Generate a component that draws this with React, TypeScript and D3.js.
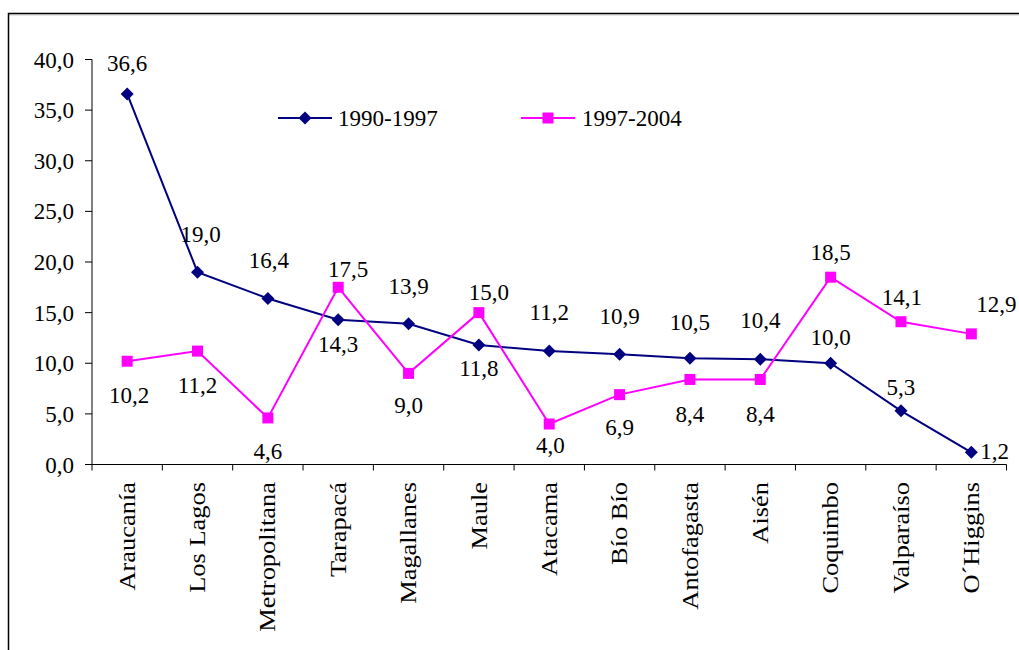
import React from "react";
import * as d3 from "d3";

const categories = ["Araucanía", "Los Lagos", "Metropolitana", "Tarapacá", "Magallanes", "Maule", "Atacama", "Bío Bío", "Antofagasta", "Aisén", "Coquimbo", "Valparaíso", "O´Higgins"];
const series1990 = [36.6, 19.0, 16.4, 14.3, 13.9, 11.8, 11.2, 10.9, 10.5, 10.4, 10.0, 5.3, 1.2];
const series1997 = [10.2, 11.2, 4.6, 17.5, 9.0, 15.0, 4.0, 6.9, 8.4, 8.4, 18.5, 14.1, 12.9];
const yTicks = [0, 5, 10, 15, 20, 25, 30, 35, 40];
const seriesNames = ["1990-1997", "1997-2004"];

// data label offsets relative to each point (layout only): [dx, dy to baseline]
const off1990: [number, number][] = [[0, -23], [3, -30], [1, -30], [0, 32], [0, -30], [0, 31], [0, -31], [0, -30], [0, -28], [0, -31], [0, -18], [0, -16], [28, 7]];
const off1997: [number, number][] = [[2, 42], [0, 42], [0, 41], [10, -10], [0, 40], [10, -13], [1, 29], [0, 40], [0, 43], [0, 43], [0, -17], [1, -17], [25, -22]];

const TS: React.CSSProperties = { fontFamily: "'Liberation Serif', 'Times New Roman', serif", fontSize: 23 };
const fmt = (v: number) => v.toFixed(1).replace(".", ",");

export default function App() {
  const x0 = 92, x1 = 1006.5, yTop = 59.5, yBot = 464.5;
  const x = d3.scaleBand().domain(categories).range([x0, x1]);
  const y = d3.scaleLinear().domain([0, 40]).range([yBot, yTop]);
  const cx = (c: string) => (x(c) as number) + x.bandwidth() / 2;
  const line = d3.line<number>().x((_, i) => cx(categories[i])).y((d) => y(d));

  const diamond = (px: number, py: number, s = 6.5) =>
    `M${px},${py - s}L${px + s},${py}L${px},${py + s}L${px - s},${py}Z`;

  return (
    <svg width={1019} height={650} style={{ position: "absolute", left: 0, top: 0, background: "#fff" }}>
      <rect x={0} y={0} width={1019} height={650} fill="#fff" />
      <line x1={9} y1={15} x2={1019} y2={15} stroke="#ccc" strokeWidth={1} />
      <path d={`M8.5,650V13.5H1019`} fill="none" stroke="#000" strokeWidth={1.5} />

      <line x1={x0} y1={yTop} x2={x0} y2={yBot} stroke="#000" strokeWidth={1} />
      {yTicks.map((t) => (
        <g key={t}>
          <line x1={x0 - 7} x2={x0} y1={y(t)} y2={y(t)} stroke="#000" />
          <text x={74} y={y(t) + 8} textAnchor="end" style={TS} fill="#000">{fmt(t)}</text>
        </g>
      ))}

      <line x1={x0} y1={yBot} x2={x1} y2={yBot} stroke="#000" strokeWidth={1} />
      {categories.map((c, i) => (
        <line key={"t" + i} x1={x(c) as number} x2={x(c) as number} y1={yBot} y2={yBot + 6} stroke="#000" />
      ))}
      <line x1={x1} x2={x1} y1={yBot} y2={yBot + 6} stroke="#000" />
      {categories.map((c) => (
        <text key={c} transform={`translate(${cx(c)},482) rotate(-90) scale(1.15,1)`} textAnchor="end" dy="0.33em" style={TS} fill="#000">{c}</text>
      ))}

      <path d={line(series1990) || ""} fill="none" stroke="#000080" strokeWidth={2} />
      <path d={line(series1997) || ""} fill="none" stroke="#FF00FF" strokeWidth={2} />
      {series1990.map((v, i) => (
        <path key={"d" + i} d={diamond(cx(categories[i]), y(v))} fill="#000080" />
      ))}
      {series1997.map((v, i) => (
        <rect key={"s" + i} x={cx(categories[i]) - 5.5} y={y(v) - 5.5} width={11} height={11} fill="#FF00FF" />
      ))}

      {series1990.map((v, i) => {
        const [dx, dy] = off1990[i];
        const right = i === series1990.length - 1;
        return <text key={"l1" + i} x={cx(categories[i]) + (right ? 9 : dx)} y={y(v) + dy} textAnchor={right ? "start" : "middle"} style={TS} fill="#000">{fmt(v)}</text>;
      })}
      {series1997.map((v, i) => {
        const [dx, dy] = off1997[i];
        return <text key={"l2" + i} x={cx(categories[i]) + dx} y={y(v) + dy} textAnchor="middle" style={TS} fill="#000">{fmt(v)}</text>;
      })}

      <line x1={278} x2={332} y1={118} y2={118} stroke="#000080" strokeWidth={2} />
      <path d={diamond(305, 118)} fill="#000080" />
      <text x={338} y={126} style={TS} fill="#000">{seriesNames[0]}</text>
      <line x1={521} x2={575} y1={118} y2={118} stroke="#FF00FF" strokeWidth={2} />
      <rect x={542.5} y={112.5} width={11} height={11} fill="#FF00FF" />
      <text x={582} y={126} style={TS} fill="#000">{seriesNames[1]}</text>
    </svg>
  );
}
